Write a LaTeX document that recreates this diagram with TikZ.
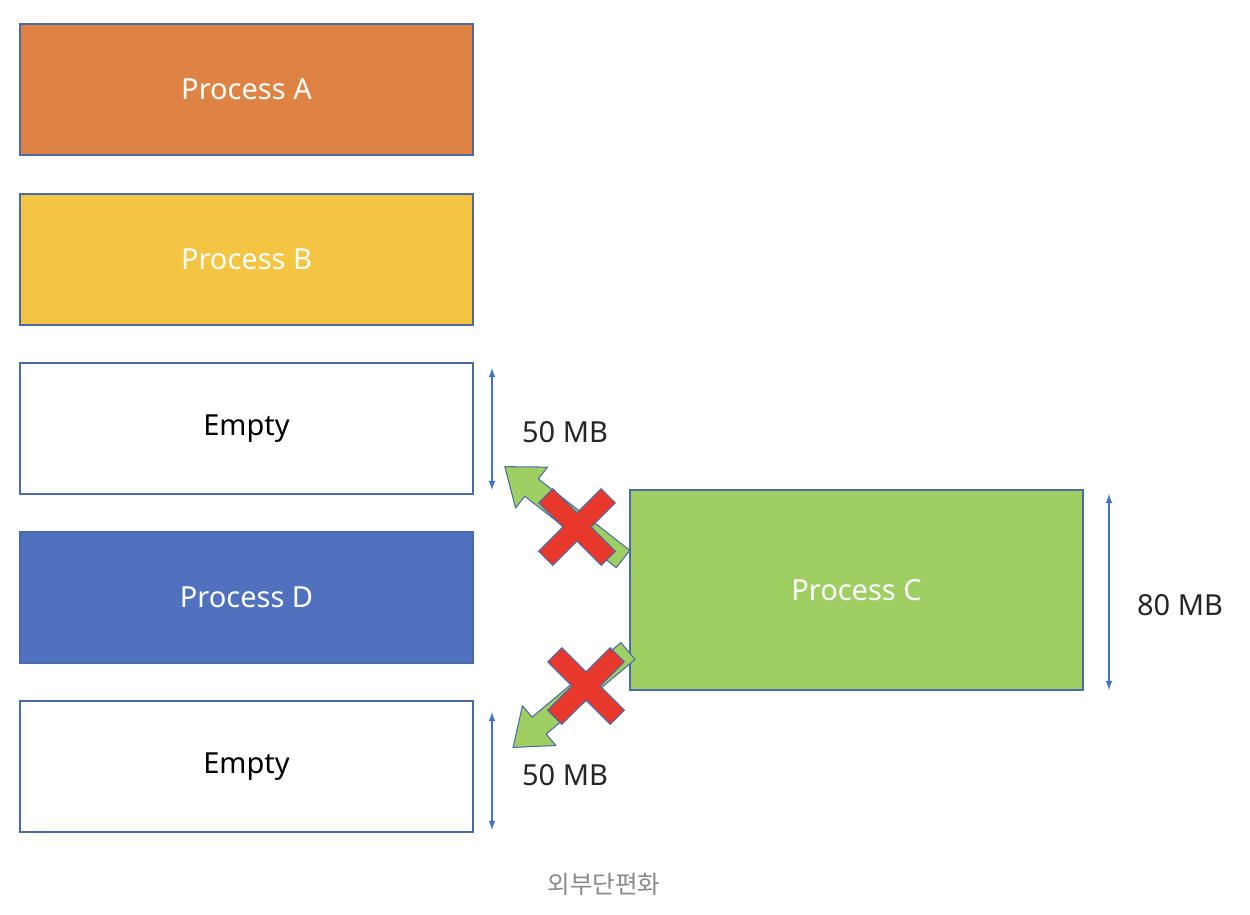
\documentclass[tikz,border=0pt]{standalone}
\usepackage{fontspec}
\setmainfont{Noto Sans}
\newfontfamily\krfont{Noto Sans CJK KR}
\usetikzlibrary{arrows,positioning}

\definecolor{procA}{HTML}{DF8344}
\definecolor{procB}{HTML}{F4C443}
\definecolor{procC}{HTML}{9FCF63}
\definecolor{procD}{HTML}{5072BE}
\definecolor{edge}{HTML}{4A6AA8}
\definecolor{dimblue}{HTML}{4472C4}
\definecolor{xred}{HTML}{E8382C}
\definecolor{capgray}{HTML}{8A8A8A}

\tikzset{
  block/.style={rectangle, draw=edge, line width=0.8pt, minimum width=9.06cm,
    minimum height=2.62cm, inner sep=0pt, font=\fontsize{16.5}{19}\selectfont, text=white},
  dim/.style={latex-latex, draw=dimblue, line width=0.8pt},
  dimlabel/.style={font=\fontsize{16.5}{19}\selectfont, text=black!85},
  movearrow/.style={draw=edge, fill=procC, line width=0.6pt, line join=round},
  xbar/.style={rectangle, minimum width=1.74cm, minimum height=0.37cm, inner sep=0pt}
}

\begin{document}
\begin{tikzpicture}[x=0.02cm, y=-0.02cm]
    \useasboundingbox (0,0) rectangle (1250,914);

    % memory blocks
    \node[block, fill=procA] (A) at (246.5,89.5) {Process A};
    \node[block, fill=procB] (B) at (246.5,259.5) {Process B};
    \node[block, fill=white, text=black] (E1) at (246.5,428.5) {Empty};
    \node[block, fill=procD] (D) at (246.5,597.5) {Process D};
    \node[block, fill=white, text=black] (E2) at (246.5,766.5) {Empty};

    % incoming process
    \node[block, fill=procC, minimum height=4cm] (C) at (856.5,590) {Process C};

    % sizes
    \coordinate (e1top) at (492,368);
    \coordinate (e1bot) at (492,490);
    \coordinate (e2top) at (492,712);
    \coordinate (e2bot) at (492,830);
    \coordinate (ctop) at (1109,494);
    \coordinate (cbot) at (1109,690);
    \draw[dim] (e1top) -- (e1bot);
    \draw[dim] (e2top) -- (e2bot);
    \draw[dim] (ctop) -- (cbot);
    \node[dimlabel] (s1) at (565,432) {50 MB};
    \node[dimlabel] (s2) at (565,775) {50 MB};
    \node[dimlabel] (s3) at (1180,605) {80 MB};

    % failed moves (tail point / direction)
    \foreach \tx/\ty/\ang in {623/559/142, 628/651/220} {
      \begin{scope}[shift={(\tx,\ty)}, rotate=\ang]
        \draw[movearrow] (0,-11) -- (116,-11) -- (116,-26) -- (150,0)
          -- (116,26) -- (116,11) -- (0,11) -- cycle;
      \end{scope}
    }

    \foreach \cx/\cy/\nm in {577/527/xup, 586/686/xdown} {
      \node[xbar, draw=edge, line width=1.4pt, rotate=45] (\nm a) at (\cx,\cy) {};
      \node[xbar, draw=edge, line width=1.4pt, rotate=-45] (\nm b) at (\cx,\cy) {};
      \node[xbar, fill=xred, rotate=45] (\nm c) at (\cx,\cy) {};
      \node[xbar, fill=xred, rotate=-45] (\nm d) at (\cx,\cy) {};
    }

    \node[font=\krfont\fontsize{14}{16}\selectfont, text=capgray] (cap) at (604,884) {외부단편화};
\end{tikzpicture}
\end{document}
